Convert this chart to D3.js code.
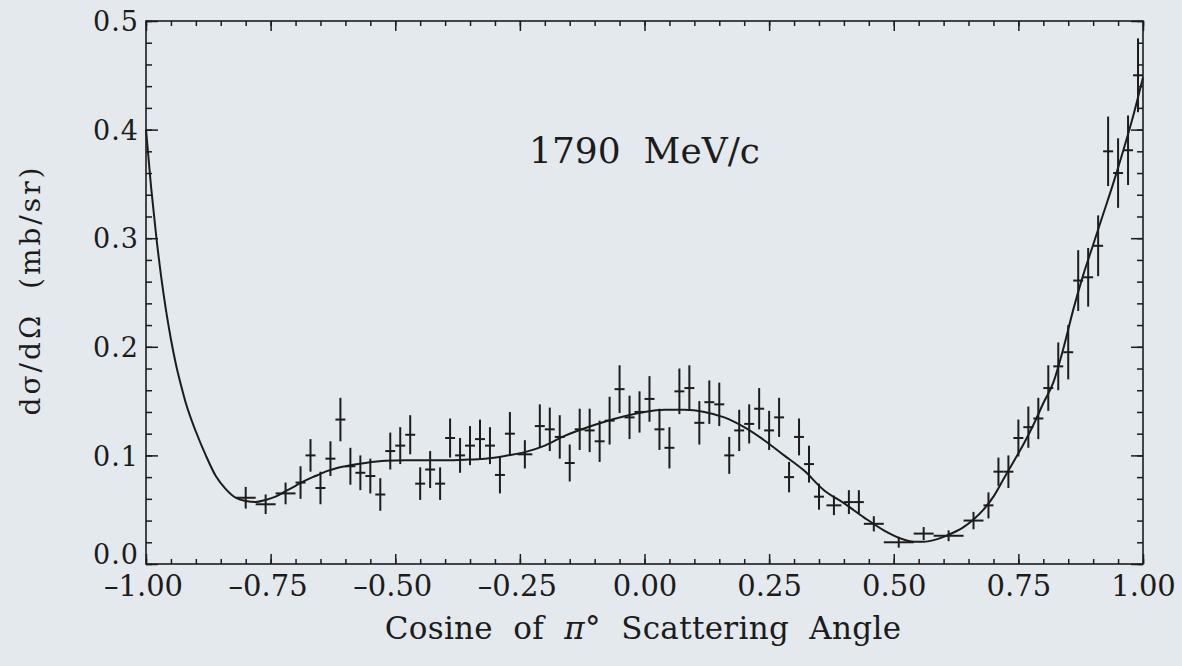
<!DOCTYPE html>
<html>
<head>
<meta charset="utf-8">
<script src="https://cdn.jsdelivr.net/npm/d3@7/dist/d3.min.js"></script>
<style>
  html, body { margin: 0; padding: 0; background: #e3e9ed; }
  svg { display: block; }
  text { font-family: "DejaVu Serif", "Liberation Serif", serif; fill: #1c1c1c; }
</style>
</head>
<body>
<svg id="chart" width="1182" height="666"></svg>
<script>
// ---------- data ----------
const cosTheta = [-0.80,-0.76,-0.72,-0.69,-0.67,-0.65,-0.63,-0.61,-0.59,-0.57,-0.55,-0.53,-0.51,-0.49,-0.47,-0.45,-0.43,-0.41,-0.39,-0.37,
  -0.35,-0.33,-0.31,-0.29,-0.27,-0.24,-0.21,-0.19,-0.17,-0.15,-0.13,-0.11,-0.09,-0.07,-0.05,-0.03,-0.01,0.01,0.03,0.05,
  0.07,0.09,0.11,0.13,0.15,0.17,0.19,0.21,0.23,0.25,0.27,0.29,0.31,0.33,0.35,0.38,0.41,0.43,0.46,0.51,
  0.56,0.61,0.66,0.69,0.71,0.73,0.75,0.77,0.79,0.81,0.83,0.85,0.87,0.89,0.91,0.93,0.95,0.97,0.99];
const dSigma = [0.061,0.055,0.065,0.075,0.100,0.070,0.097,0.133,0.090,0.084,0.081,0.064,0.104,0.109,0.119,0.074,0.087,0.074,0.116,0.100,
  0.109,0.115,0.109,0.082,0.120,0.101,0.127,0.124,0.117,0.093,0.124,0.123,0.113,0.132,0.161,0.135,0.140,0.152,0.124,0.107,
  0.159,0.162,0.130,0.149,0.147,0.100,0.123,0.129,0.143,0.123,0.135,0.080,0.117,0.092,0.062,0.054,0.057,0.057,0.037,0.020,
  0.028,0.026,0.040,0.054,0.085,0.085,0.116,0.126,0.134,0.162,0.182,0.195,0.261,0.264,0.293,0.380,0.360,0.381,0.450];
const dSigmaErr = [0.010,0.009,0.010,0.015,0.015,0.015,0.016,0.020,0.017,0.016,0.016,0.015,0.017,0.017,0.018,0.015,0.017,0.015,0.018,0.016,
  0.018,0.018,0.017,0.017,0.020,0.013,0.020,0.020,0.020,0.017,0.019,0.020,0.019,0.022,0.022,0.020,0.019,0.021,0.019,0.019,
  0.021,0.021,0.020,0.020,0.020,0.017,0.019,0.018,0.019,0.018,0.018,0.014,0.017,0.017,0.012,0.009,0.011,0.011,0.007,0.005,
  0.006,0.005,0.008,0.012,0.013,0.015,0.017,0.019,0.019,0.021,0.022,0.025,0.028,0.027,0.028,0.032,0.032,0.032,0.034];
const binHalfWidth = [0.020,0.020,0.020,0.010,0.010,0.010,0.010,0.010,0.010,0.010,0.010,0.010,0.010,0.010,0.010,0.010,0.010,0.010,0.010,0.010,
  0.010,0.010,0.010,0.010,0.010,0.015,0.010,0.010,0.010,0.010,0.010,0.010,0.010,0.010,0.010,0.010,0.010,0.010,0.010,0.010,
  0.010,0.010,0.010,0.010,0.010,0.010,0.010,0.010,0.010,0.010,0.010,0.010,0.010,0.010,0.010,0.015,0.010,0.010,0.020,0.030,
  0.020,0.030,0.020,0.010,0.010,0.010,0.010,0.010,0.010,0.010,0.010,0.010,0.010,0.010,0.010,0.010,0.010,0.010,0.010];

// fitted curve
const fitCos = [-1.00,-0.99,-0.98,-0.97,-0.96,-0.95,-0.94,-0.93,-0.92,-0.90,-0.88,-0.86,-0.84,-0.82,-0.80,-0.78,-0.76,-0.74,-0.72,-0.70,
  -0.68,-0.66,-0.64,-0.62,-0.60,-0.56,-0.52,-0.48,-0.44,-0.40,-0.36,-0.32,-0.28,-0.24,-0.20,-0.16,-0.12,-0.08,-0.04,0.00,
  0.04,0.08,0.12,0.16,0.20,0.24,0.28,0.32,0.36,0.40,0.44,0.48,0.52,0.54,0.56,0.58,0.60,0.62,0.64,0.66,
  0.68,0.70,0.72,0.74,0.76,0.78,0.80,0.82,0.84,0.86,0.88,0.90,0.92,0.94,0.96,0.98,1.00];
const fitSigma = [0.400,0.348,0.304,0.266,0.234,0.207,0.184,0.165,0.148,0.122,0.100,0.081,0.069,0.061,0.058,0.057,0.059,0.062,0.067,0.072,
  0.077,0.081,0.085,0.088,0.090,0.093,0.095,0.0955,0.0955,0.0955,0.096,0.097,0.0995,0.103,0.109,0.118,0.125,0.131,0.136,0.140,
  0.142,0.142,0.140,0.135,0.126,0.114,0.100,0.086,0.068,0.056,0.043,0.031,0.0225,0.0205,0.0205,0.022,0.025,0.029,0.034,0.041,
  0.050,0.062,0.078,0.094,0.110,0.128,0.148,0.167,0.198,0.234,0.266,0.294,0.322,0.350,0.380,0.412,0.448];

const xTickLabels = ["\u20131.00","\u20130.75","\u20130.50","\u20130.25","0.00","0.25","0.50","0.75","1.00"];
const yTickLabels = ["0.0","0.1","0.2","0.3","0.4","0.5"];
const xTitleParts = ["Cosine  of  ", "\u03C0", "\u00B0  Scattering  Angle"];
const yTitle = "d\u03C3/d\u03A9  (mb/sr)";
const annotation = "1790  MeV/c";

// ---------- layout ----------
const L = 146, R = 1143, T = 21, B = 564;
const ink = "#1c1c1c";
const svg = d3.select("#chart");

const x = d3.scaleLinear().domain([-1, 1]).range([L, R]);
const y = d3.scaleLinear().domain([0, 0.5]).range([B, T]);

svg.append("rect").attr("width", 1182).attr("height", 666).attr("fill", "#e3e9ed");

// frame
svg.append("rect").attr("x", L).attr("y", T).attr("width", R - L).attr("height", B - T)
  .attr("fill", "none").attr("stroke", ink).attr("stroke-width", 1.6);

// ticks via d3 axes (inward)
const xMinor = d3.range(-1, 1.0001, 0.05).map(v => +v.toFixed(2));
const xMajor = d3.range(-1, 1.0001, 0.25).map(v => +v.toFixed(2));
const yMinor = d3.range(0, 0.5001, 0.02).map(v => +v.toFixed(2));
const yMajor = d3.range(0, 0.5001, 0.1).map(v => +v.toFixed(2));

function tickAxis(gen, tr, vals, size) {
  const g = svg.append("g").attr("transform", tr)
    .call(gen.tickValues(vals).tickSize(size).tickFormat(""));
  g.select(".domain").remove();
  g.selectAll("line").attr("stroke", ink).attr("stroke-width", 1.5);
  return g;
}
tickAxis(d3.axisTop(x), `translate(0,${B})`, xMinor, 5);
tickAxis(d3.axisTop(x), `translate(0,${B})`, xMajor, 10);
tickAxis(d3.axisBottom(x), `translate(0,${T})`, xMinor, 5);
tickAxis(d3.axisBottom(x), `translate(0,${T})`, xMajor, 10);
tickAxis(d3.axisRight(y), `translate(${L},0)`, yMinor, 6);
tickAxis(d3.axisRight(y), `translate(${L},0)`, yMajor, 12);
tickAxis(d3.axisLeft(y), `translate(${R},0)`, yMinor, 6);
tickAxis(d3.axisLeft(y), `translate(${R},0)`, yMajor, 12);

// tick labels
const xlab = d3.axisBottom(x).tickValues(xMajor).tickSize(0).tickPadding(0)
  .tickFormat((d, i) => xTickLabels[i]);
const gxl = svg.append("g").attr("transform", `translate(0,${B + 32})`).call(xlab);
gxl.select(".domain").remove();
gxl.selectAll("text").attr("font-size", 29).attr("fill", ink)
  .attr("font-family", "DejaVu Serif, serif").attr("y", 0).attr("dy", 0)
  .attr("dx", d => d < 0 ? -3 : 0);

const ylab = d3.axisLeft(y).tickValues(yMajor).tickSize(0).tickPadding(0)
  .tickFormat((d, i) => yTickLabels[i]);
const gyl = svg.append("g").attr("transform", `translate(139,0)`).call(ylab);
gyl.select(".domain").remove();
gyl.selectAll("text").attr("font-size", 27).attr("fill", ink)
  .attr("font-family", "DejaVu Serif, serif").attr("letter-spacing", 1)
  .attr("text-anchor", "end").attr("dy", "0.36em")
  .attr("y", d => d === 0 ? -10 : 0);

// titles
const xt = svg.append("text").attr("x", 643).attr("y", 639).attr("text-anchor", "middle")
  .attr("font-size", 31).attr("letter-spacing", 0.3).style("white-space", "pre");
xt.selectAll("tspan").data(xTitleParts).join("tspan")
  .attr("font-style", (d, i) => i === 1 ? "italic" : "normal").text(d => d);
svg.append("text").attr("transform", `translate(40,290) rotate(-90)`)
  .attr("text-anchor", "middle").attr("font-size", 28).attr("letter-spacing", 3)
  .style("white-space", "pre").text(yTitle);
svg.append("text").attr("x", x(0)).attr("y", 163).attr("text-anchor", "middle")
  .attr("font-size", 36).style("white-space", "pre").text(annotation);

// fit curve
const fitData = fitCos.map((c, i) => [c, fitSigma[i]]);
svg.append("path").datum(fitData)
  .attr("d", d3.line().x(d => x(d[0])).y(d => y(d[1])).curve(d3.curveMonotoneX))
  .attr("fill", "none").attr("stroke", ink).attr("stroke-width", 2);

// data points with error bars
const pts = cosTheta.map((c, i) => ({ c, s: dSigma[i], e: dSigmaErr[i], w: binHalfWidth[i] }));
const gp = svg.append("g").attr("stroke", ink).attr("stroke-width", 2);
gp.selectAll(".ev").data(pts).join("line")
  .attr("x1", d => x(d.c)).attr("x2", d => x(d.c))
  .attr("y1", d => y(d.s - d.e)).attr("y2", d => y(d.s + d.e));
gp.selectAll(".eh").data(pts).join("line")
  .attr("x1", d => x(d.c - d.w)).attr("x2", d => x(d.c + d.w))
  .attr("y1", d => y(d.s)).attr("y2", d => y(d.s));
</script>
</body>
</html>
